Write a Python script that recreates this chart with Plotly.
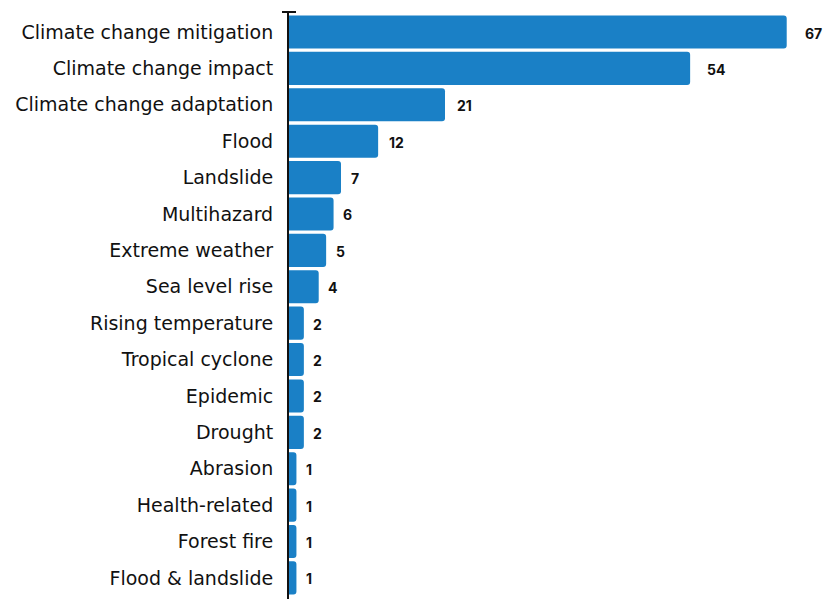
import plotly.graph_objects as go

categories = [
    "Climate change mitigation", "Climate change impact", "Climate change adaptation",
    "Flood", "Landslide", "Multihazard", "Extreme weather", "Sea level rise",
    "Rising temperature", "Tropical cyclone", "Epidemic", "Drought",
    "Abrasion", "Health-related", "Forest fire", "Flood & landslide",
]
counts = [67, 54, 21, 12, 7, 6, 5, 4, 2, 2, 2, 2, 1, 1, 1, 1]

BAR_COLOR = "#1a80c6"
LABEL_FONT = "DejaVu Sans"
VALUE_FONT = "Inter"

fig = go.Figure(go.Bar(
    x=counts,
    y=categories,
    orientation="h",
    marker=dict(color=BAR_COLOR, line=dict(width=0)),
    hoverinfo="skip",
))

# value labels just past the end of each bar
for cat, val in zip(categories, counts):
    fig.add_annotation(
        x=val, y=cat, text=f"<b>{val}</b>", showarrow=False,
        xanchor="left", xshift=7 + 0.14 * val, yshift=-1,
        font=dict(family=VALUE_FONT, size=14, color="#111111"),
    )

# small cap at the top of the category axis
fig.add_shape(
    type="line", xref="paper", yref="paper",
    xsizemode="pixel", xanchor=0, x0=-7, x1=7,
    y0=1, y1=1, line=dict(color="#111111", width=2),
)

fig.update_layout(
    width=823, height=599,
    margin=dict(l=289, r=14, t=12, b=0),
    paper_bgcolor="white", plot_bgcolor="white",
    bargap=0.09, barcornerradius=3,
    showlegend=False,
    xaxis=dict(range=[0, 70], visible=False, fixedrange=True),
    yaxis=dict(
        range=[15.58, -0.55], showline=True, linecolor="#111111", linewidth=2,
        showgrid=False, ticks="", ticklabelstandoff=10,
        tickfont=dict(family=LABEL_FONT, size=19, color="#111111"),
    ),
)

fig.write_html("out.html")
